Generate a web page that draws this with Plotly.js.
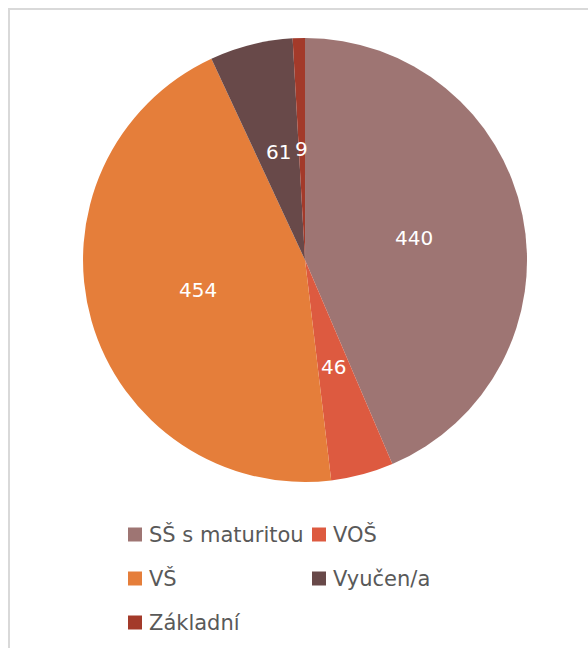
<!DOCTYPE html>
<html>
<head>
<meta charset="utf-8">
<script src="https://cdn.plot.ly/plotly-3.0.1.min.js"></script>
<style>
  html, body { margin: 0; padding: 0; background: #ffffff; }
  #chart { width: 588px; height: 648px; }
</style>
</head>
<body>
<div id="chart"></div>
<script>
const categories = ["SŠ s maturitou", "VOŠ", "VŠ", "Vyučen/a", "Základní"];
const values = [440, 46, 454, 61, 9];
const sliceColors = ["#9E7573", "#DD5A40", "#E57E3A", "#684949", "#A33A2A"];

const W = 588, H = 648;
const domX = [0.1412, 0.8963], domY = [0.2562, 0.9414];

const trace = {
  type: "pie",
  labels: categories,
  values: values,
  sort: false,
  direction: "clockwise",
  rotation: 0,
  marker: { colors: sliceColors, line: { width: 0 } },
  textinfo: "none",
  hoverinfo: "label+value+percent",
  showlegend: false,
  domain: { x: domX, y: domY }
};

// Value labels placed at half radius along each slice's mid-angle
const cx = (domX[0] + domX[1]) / 2 * W;
const cyTop = (1 - (domY[0] + domY[1]) / 2) * H;
const R = 0.5 * Math.min((domX[1] - domX[0]) * W, (domY[1] - domY[0]) * H);
const total = values.reduce((a, b) => a + b, 0);
const annotations = [];
let cum = 0;
values.forEach((v) => {
  const mid = (cum + v / 2) / total * 2 * Math.PI;
  cum += v;
  const px = cx + 0.5 * R * Math.sin(mid);
  const py = cyTop - 0.5 * R * Math.cos(mid);
  annotations.push({
    xref: "paper", yref: "paper", x: px / W, y: 1 - py / H,
    xanchor: "center", yanchor: "middle", showarrow: false,
    text: String(v),
    font: { family: "DejaVu Sans", size: 20, color: "#ffffff" }
  });
});

// Custom legend (two columns) built from categories and colours
const shapes = [{
  type: "rect", xref: "paper", yref: "paper",
  x0: 9 / W, x1: 1.05, y0: -0.05, y1: 1 - 9 / H,
  line: { color: "#D9D9D9", width: 2 }, fillcolor: "rgba(0,0,0,0)"
}];
const colX = [128, 312];
const rowY = [534.5, 578.5, 622.5];
const box = 14;
categories.forEach((c, i) => {
  const x = colX[i % 2], y = rowY[Math.floor(i / 2)];
  shapes.push({
    type: "rect", xref: "paper", yref: "paper",
    x0: x / W, x1: (x + box) / W,
    y0: 1 - (y + box / 2) / H, y1: 1 - (y - box / 2) / H,
    line: { width: 0 }, fillcolor: sliceColors[i]
  });
  annotations.push({
    xref: "paper", yref: "paper", x: (x + box + 5) / W, y: 1 - y / H,
    xanchor: "left", yanchor: "middle", showarrow: false,
    text: c,
    font: { family: "DejaVu Sans", size: 21, color: "#595959" }
  });
});

const layout = {
  width: W,
  height: H,
  margin: { l: 0, r: 0, t: 0, b: 0 },
  paper_bgcolor: "#ffffff",
  showlegend: false,
  shapes: shapes,
  annotations: annotations
};

Plotly.newPlot("chart", [trace], layout, { displayModeBar: false, staticPlot: true });
</script>
</body>
</html>
